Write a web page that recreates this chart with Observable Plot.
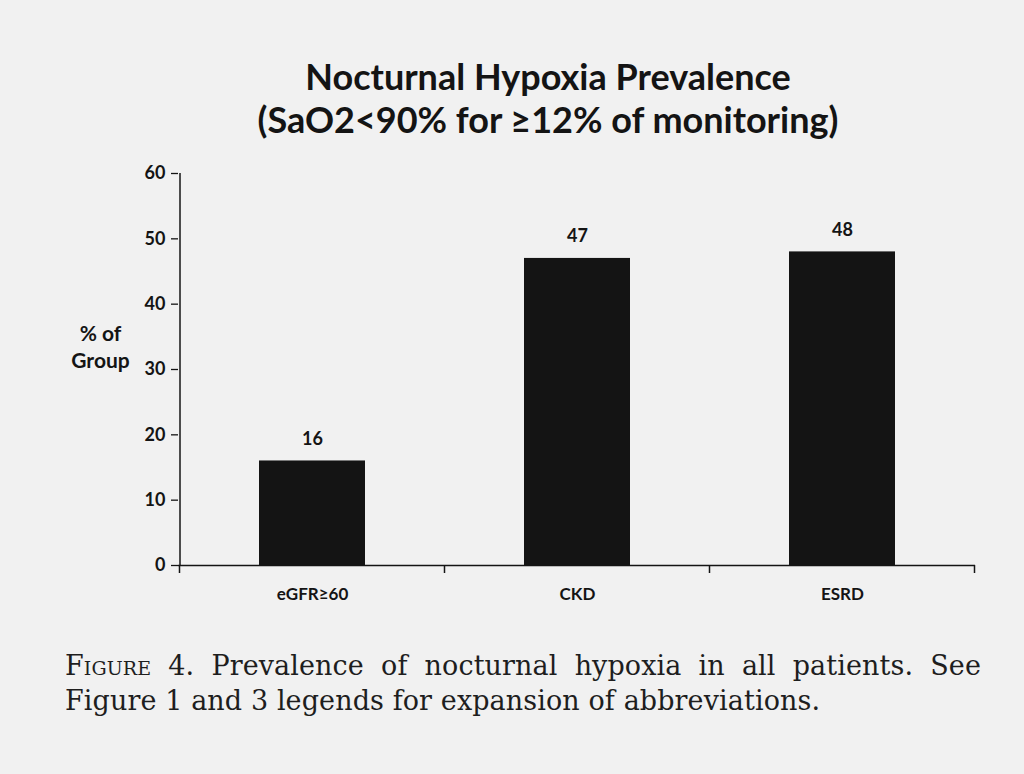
<!DOCTYPE html>
<html>
<head>
<meta charset="utf-8">
<script src="https://cdn.jsdelivr.net/npm/d3@7"></script>
<script src="https://cdn.jsdelivr.net/npm/@observablehq/plot@0.6"></script>
<style>
  html, body { margin: 0; padding: 0; background: #f1f1f1; }
  body { width: 1024px; height: 774px; overflow: hidden; position: relative; }
  #title { position: absolute; left: 72px; width: 952px; top: 55px; text-align: center;
    font-family: Lato, "Open Sans", sans-serif; font-weight: bold; font-size: 36px; line-height: 43px; color: #141414; }
  #chart { position: absolute; left: 0; top: 150px; }
  #caption { position: absolute; left: 65px; width: 916px; top: 648px;
    font-family: "DejaVu Serif", "Liberation Serif", serif; font-size: 27px; line-height: 35px; letter-spacing: 0.1px; color: #1e1e1e; }
  #caption .l1 { text-align: justify; text-align-last: justify; }
  .sc { font-variant: small-caps; }
</style>
</head>
<body>
<div id="title">Nocturnal Hypoxia Prevalence<br>(SaO2&lt;90% for ≥12% of monitoring)</div>
<div id="chart"></div>
<div id="caption"><div class="l1"><span class="sc">Figure</span> 4. Prevalence of nocturnal hypoxia in all patients. See</div><div>Figure 1 and 3 legends for expansion of abbreviations.</div></div>
<script>
const categories = ["eGFR≥60", "CKD", "ESRD"];
const values = [16, 47, 48];
const yTicks = [0, 10, 20, 30, 40, 50, 60];
const yLabel = "% of\nGroup";

const data = categories.map((c, i) => ({group: c, value: values[i]}));
const ink = "#141414";
const font = "Lato, 'Open Sans', sans-serif";

const plot = Plot.plot({
  width: 1024,
  height: 466,
  marginTop: 23,
  marginBottom: 51,
  marginLeft: 178,
  marginRight: 49,
  style: {background: "transparent", fontFamily: font, color: ink},
  x: {domain: categories, paddingInner: 0.6, paddingOuter: 0.3, label: null},
  y: {domain: [0, 60], ticks: yTicks, label: null},
  marks: [
    Plot.barY(data, {x: "group", y: "value", fill: ink}),
    Plot.text(data, {x: "group", y: "value", text: d => String(d.value), dy: -22, fontSize: 18, fontWeight: "bold", fill: ink}),
    Plot.axisY({ticks: yTicks, tickSize: 7, tickPadding: 6, fontSize: 18, fontWeight: "bold", stroke: ink, fill: ink, strokeWidth: 1.3}),
    Plot.axisX({tickSize: 0, tickPadding: 22, fontSize: 17, fontWeight: "bold", fill: ink}),
    Plot.ruleY([0], {stroke: ink, strokeWidth: 1.5}),
    Plot.text([yLabel], {frameAnchor: "left", dx: -78, dy: -24, fontSize: 21, fontWeight: "bold", lineHeight: 1.3, fill: ink, textAnchor: "middle"})
  ]
});

// y axis line and boundary tick marks between categories, computed from Plot's scales
const xs = plot.scale("x");
const ys = plot.scale("y");
const half = (xs.step - xs.bandwidth) / 2;
const bounds = categories.map(c => xs.apply(c) - half);
bounds.push(xs.apply(categories[categories.length - 1]) + xs.bandwidth + half);
const y0 = ys.apply(0);
const g = d3.select(plot).append("g").attr("stroke", ink).attr("stroke-width", 1.5);
g.append("line")
  .attr("x1", xs.range[0] + 2).attr("x2", xs.range[0] + 2)
  .attr("y1", ys.apply(yTicks[yTicks.length - 1])).attr("y2", y0);
g.selectAll("line.b").data(bounds).join("line").attr("class", "b")
  .attr("x1", d => d).attr("x2", d => d)
  .attr("y1", y0).attr("y2", y0 + 8);

document.getElementById("chart").appendChild(plot);
</script>
</body>
</html>
